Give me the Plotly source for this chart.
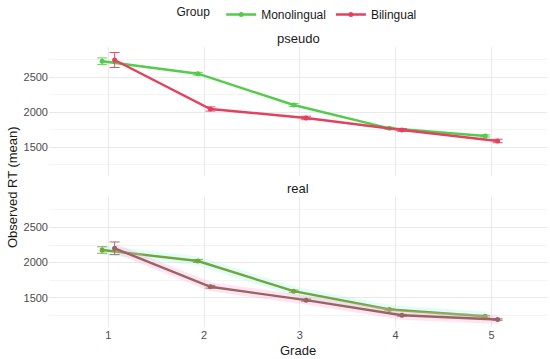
import plotly.graph_objects as go

grades = [1, 2, 3, 4, 5]
groups = ["Monolingual", "Bilingual"]

pseudo_mono = [2729, 2551, 2104, 1771, 1661]
pseudo_mono_se = [48, 20, 20, 15, 15]
pseudo_bili = [2747, 2047, 1919, 1747, 1590]
pseudo_bili_se = [107, 30, 25, 20, 25]

real_mono = [2180, 2023, 1594, 1333, 1237]
real_mono_se = [46, 20, 15, 12, 12]
real_bili = [2204, 1657, 1466, 1251, 1190]
real_bili_se = [90, 20, 15, 12, 10]

tick_labels = ["1", "2", "3", "4", "5"]

FONT = "Liberation Sans, Arial, sans-serif"
DODGE = 0.065

colors_pseudo = {"Monolingual": "#52cc4a", "Bilingual": "#e2415f"}
colors_real = {"Monolingual": "#76a43a", "Bilingual": "#9a6560"}
halo_real = {"Monolingual": "rgba(170,250,235,0.35)", "Bilingual": "rgba(255,170,215,0.30)"}

fig = go.Figure()

panels = [
    ("x", "y", {"Monolingual": (pseudo_mono, pseudo_mono_se), "Bilingual": (pseudo_bili, pseudo_bili_se)}, colors_pseudo, True),
    ("x2", "y2", {"Monolingual": (real_mono, real_mono_se), "Bilingual": (real_bili, real_bili_se)}, colors_real, False),
]

for xa, ya, data, cols, show in panels:
    for g in groups:
        vals, se = data[g]
        off = -DODGE if g == "Monolingual" else DODGE
        xs = [x + off for x in grades]
        if not show:
            fig.add_trace(go.Scatter(
                x=xs, y=vals, xaxis=xa, yaxis=ya, mode="lines",
                line=dict(color=halo_real[g], width=9), showlegend=False, hoverinfo="skip"))
        fig.add_trace(go.Scatter(
            x=xs, y=vals, xaxis=xa, yaxis=ya, mode="lines+markers", name=g,
            line=dict(color=cols[g], width=2.4),
            marker=dict(color=cols[g], size=5),
            error_y=dict(type="data", array=se, color=cols[g], thickness=0.9, width=5),
            showlegend=show, legendgroup=g))

xr = [0.38, 5.58]
yr = [1084, 2933]
grid = "#e9e9e9"
minor_grid = "#f4f4f4"

common_x = dict(range=xr, tickvals=grades, ticktext=tick_labels, showgrid=True, gridcolor=grid,
                zeroline=False, showline=False, ticks="", ticklen=0,
                tickfont=dict(size=11, color="#4d4d4d", family=FONT))
common_y = dict(range=yr, tickvals=[1500, 2000, 2500], showgrid=True, gridcolor=grid, zeroline=False,
                showline=False, ticks="", ticklen=0, tickfont=dict(size=11, color="#4d4d4d", family=FONT),
                minor=dict(tickvals=[1250, 1750, 2250, 2750], showgrid=True, gridcolor=minor_grid))

fig.update_layout(
    width=550, height=359,
    margin=dict(l=49, r=3, t=47, b=32, autoexpand=False),
    paper_bgcolor="white", plot_bgcolor="white",
    font=dict(family=FONT, color="#1a1a1a"),
    xaxis=dict(common_x, domain=[0, 1], anchor="y", showticklabels=False),
    yaxis=dict(common_y, domain=[0.538, 1], anchor="x"),
    xaxis2=dict(common_x, domain=[0, 1], anchor="y2"),
    yaxis2=dict(common_y, domain=[0, 0.464], anchor="x2"),
    legend=dict(orientation="h", x=0.5, xanchor="center", yref="container", y=1.0, yanchor="top",
                title=dict(text="Group ", font=dict(size=12, family=FONT)),
                font=dict(size=12, family=FONT), itemwidth=30, bgcolor="rgba(0,0,0,0)"),
    annotations=[
        dict(text="pseudo", x=0.5, y=1.032, xref="paper", yref="paper", showarrow=False,
             font=dict(size=13, family=FONT, color="#1a1a1a"), yanchor="middle"),
        dict(text="real", x=0.5, y=0.493, xref="paper", yref="paper", showarrow=False,
             font=dict(size=13, family=FONT, color="#1a1a1a"), yanchor="middle"),
        dict(text="Observed RT (mean)", x=-0.0743, y=0.5, xref="paper", yref="paper", showarrow=False,
             textangle=-90, font=dict(size=13, family=FONT, color="#1a1a1a"), xanchor="center", yanchor="middle"),
        dict(text="Grade", x=0.5, y=-0.0857, xref="paper", yref="paper", showarrow=False,
             font=dict(size=13, family=FONT, color="#1a1a1a"), xanchor="center", yanchor="middle"),
    ],
)

fig.write_html("out.html", config={"displayModeBar": False},
               post_script="document.body.style.margin='0';document.body.style.overflow='hidden';")
